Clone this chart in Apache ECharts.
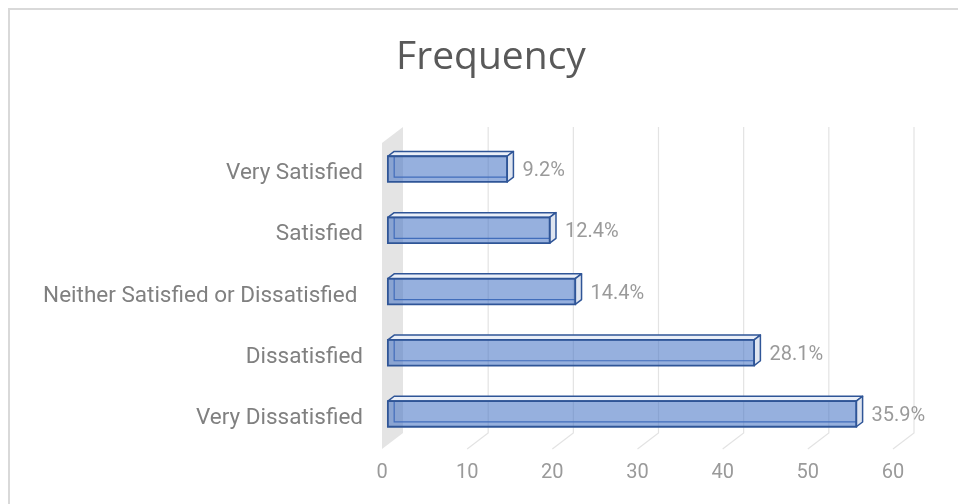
<!DOCTYPE html>
<html>
<head>
<meta charset="utf-8">
<script src="https://cdn.jsdelivr.net/npm/echarts@6/dist/echarts.min.js"></script>
<style>
  html, body { margin: 0; padding: 0; background: #ffffff; }
  #chart { width: 958px; height: 504px; }
</style>
</head>
<body>
<div id="chart"></div>
<script>
// Survey responses (counts); labels show each count as a share of all responses
const categories = ['Very Satisfied', 'Satisfied', 'Neither Satisfied or Dissatisfied ', 'Dissatisfied', 'Very Dissatisfied'];
const counts = [14, 19, 22, 43, 55];
const xTicks = [0, 10, 20, 30, 40, 50, 60];

const total = counts.reduce((a, b) => a + b, 0);
const pctLabel = v => (v / total * 100).toFixed(1) + '%';

// depth vector of the 3D box (front plane -> back wall)
const DEPTH = [21, -16];
const BAR_FRONT = 0.28;   // fraction of depth where the bar front face sits
const BAR_BACK = 0.58;    // fraction of depth where the bar back face sits
const FONT = 'Roboto, "Noto Sans", sans-serif';

const chart = echarts.init(document.getElementById('chart'), null, { renderer: 'canvas' });

function renderFrame(params, api) {
  const cs = params.coordSys;
  const v = api.value(0);
  const xf = api.coord([v, 0])[0];
  const yTop = cs.y, yBot = cs.y + cs.height;
  const children = [];
  if (v === xTicks[0]) {
    // side wall on the left
    children.push({
      type: 'polygon',
      shape: { points: [[xf, yBot], [xf + DEPTH[0], yBot + DEPTH[1]], [xf + DEPTH[0], yTop + DEPTH[1]], [xf, yTop]] },
      style: { fill: '#e4e4e4', stroke: null }
    });
  } else {
    children.push({
      type: 'polyline',
      shape: { points: [[xf + DEPTH[0], yTop + DEPTH[1]], [xf + DEPTH[0], yBot + DEPTH[1]], [xf, yBot]] },
      style: { stroke: '#e3e3e3', lineWidth: 1.2, fill: null }
    });
  }
  return { type: 'group', children };
}

function renderBar(params, api) {
  const v = api.value(0);
  const idx = api.value(1);
  const p0 = api.coord([0, idx]);
  const p1 = api.coord([v, idx]);
  const band = api.size([0, 1])[1];
  const h = band * 0.42;
  const fdx = DEPTH[0] * BAR_FRONT, fdy = DEPTH[1] * BAR_FRONT;
  const bdx = DEPTH[0] * BAR_BACK, bdy = DEPTH[1] * BAR_BACK;
  const x0 = p0[0] + fdx, x1 = p1[0] + fdx;
  const cy = p0[1] + fdy;
  const yt = cy - h / 2, yb = cy + h / 2;
  const ox = bdx - fdx, oy = bdy - fdy;
  const edge = '#2f5597';
  return {
    type: 'group',
    children: [
      // back edges seen through the translucent box
      {
        type: 'polyline',
        shape: { points: [[x0 + ox, yt + oy], [x0 + ox, yb + oy], [x1 + ox, yb + oy]] },
        style: { stroke: '#3e66b0', lineWidth: 1.2, fill: null }
      },
      // top face
      {
        type: 'polygon',
        shape: { points: [[x0, yt], [x1, yt], [x1 + ox, yt + oy], [x0 + ox, yt + oy]] },
        style: { fill: '#eaeff8', stroke: edge, lineWidth: 1.5, lineJoin: 'round' }
      },
      // end face
      {
        type: 'polygon',
        shape: { points: [[x1, yt], [x1 + ox, yt + oy], [x1 + ox, yb + oy], [x1, yb]] },
        style: { fill: '#dfe5f0', stroke: edge, lineWidth: 1.5, lineJoin: 'round' }
      },
      // front face
      {
        type: 'rect',
        shape: { x: x0, y: yt, width: x1 - x0, height: h },
        style: { fill: 'rgba(68,114,196,0.56)', stroke: edge, lineWidth: 1.8 }
      },
      {
        type: 'text',
        style: {
          text: pctLabel(v),
          x: x1 + ox + 9, y: cy + 2,
          textAlign: 'left', textVerticalAlign: 'middle',
          fill: '#9a9a9a', font: '20px ' + FONT
        }
      }
    ]
  };
}

chart.setOption({
  animation: false,
  backgroundColor: '#ffffff',
  graphic: [
    {
      type: 'rect',
      shape: { x: 9, y: 9, width: 1000, height: 600 },
      style: { fill: null, stroke: '#d9d9d9', lineWidth: 2 },
      silent: true
    },
    {
      type: 'text',
      style: {
        text: 'Frequency', x: 491, y: 38,
        textAlign: 'center', textVerticalAlign: 'top',
        fill: '#595959', font: '39px "Open Sans", "Noto Sans", sans-serif'
      }
    }
  ],
  grid: { left: 382, right: 65, top: 143, bottom: 55, containLabel: false },
  xAxis: {
    type: 'value',
    min: 0, max: 60, interval: 10,
    axisLine: { show: false },
    axisTick: { show: false },
    splitLine: { show: false },
    axisLabel: { margin: 14, color: '#9a9a9a', fontSize: 20, fontFamily: FONT }
  },
  yAxis: {
    type: 'category',
    inverse: true,
    data: categories,
    axisLine: { show: false },
    axisTick: { show: false },
    splitLine: { show: false },
    axisLabel: { margin: 19, color: '#808080', fontSize: 22.5, fontFamily: FONT }
  },
  series: [
    {
      type: 'custom',
      renderItem: renderFrame,
      data: xTicks.map(t => [t, 0]),
      encode: { x: 0, y: 1 },
      silent: true,
      z: 1
    },
    {
      type: 'custom',
      renderItem: renderBar,
      data: counts.map((c, i) => [c, i]),
      encode: { x: 0, y: 1 },
      z: 2
    }
  ]
});
</script>
</body>
</html>
